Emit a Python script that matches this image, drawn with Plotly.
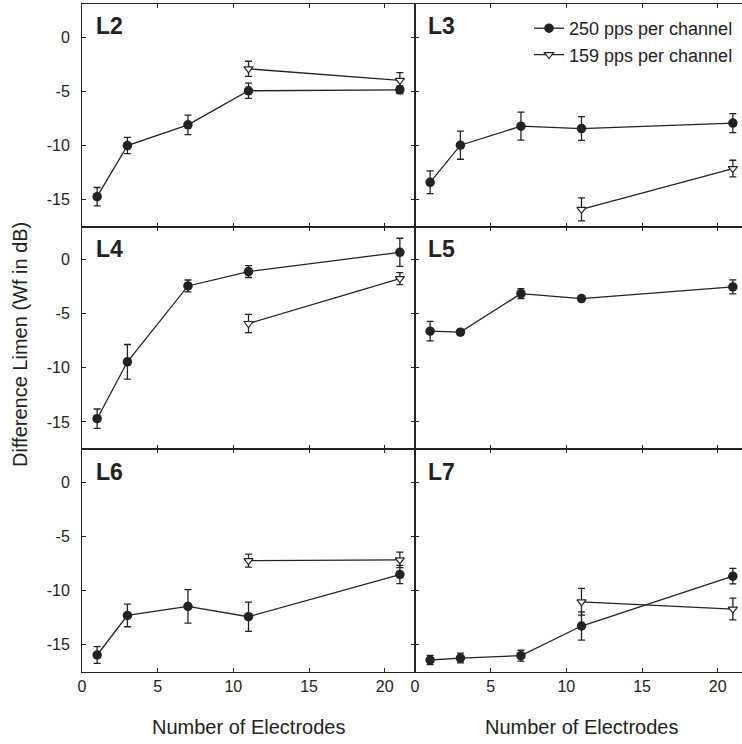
import plotly.graph_objects as go
from plotly.subplots import make_subplots

# ---- data ----
panel_names = ["L2", "L3", "L4", "L5", "L6", "L7"]
x_250 = [1, 3, 7, 11, 21]
x_159 = [11, 21]

L2_250 = [-14.76, -10.03, -8.12, -4.97, -4.88]
L2_250_err = [0.85, 0.75, 0.9, 0.7, 0.35]
L2_159 = [-2.94, -4.0]
L2_159_err = [0.7, 0.7]

L3_250 = [-13.43, -10.0, -8.24, -8.46, -7.96]
L3_250_err = [1.05, 1.3, 1.3, 1.1, 0.88]
L3_159 = [-15.93, -12.16]
L3_159_err = [1.07, 0.77]

L4_250 = [-14.7, -9.44, -2.43, -1.1, 0.68]
L4_250_err = [0.9, 1.6, 0.55, 0.55, 1.3]
L4_159 = [-5.9, -1.75]
L4_159_err = [0.85, 0.55]

L5_250 = [-6.61, -6.7, -3.14, -3.6, -2.52]
L5_250_err = [0.9, 0.25, 0.45, 0.1, 0.65]
L5_159 = []
L5_159_err = []

L6_250 = [-15.96, -12.3, -11.47, -12.42, -8.52]
L6_250_err = [0.77, 1.05, 1.55, 1.35, 0.85]
L6_159 = [-7.23, -7.17]
L6_159_err = [0.6, 0.72]

L7_250 = [-16.42, -16.24, -16.02, -13.28, -8.67]
L7_250_err = [0.43, 0.45, 0.5, 1.3, 0.72]
L7_159 = [-11.04, -11.71]
L7_159_err = [1.23, 1.0]

series_names = ["250 pps per channel", "159 pps per channel"]
y_tickvals = [0, -5, -10, -15]
y_ticktext = ["0", "-5", "-10", "-15"]
x_tickvals = [0, 5, 10, 15, 20]
x_ticktext = ["0", "5", "10", "15", "20"]
x_title = "Number of Electrodes"
y_title = "Difference Limen (Wf in dB)"

panels = [
    (L2_250, L2_250_err, L2_159, L2_159_err),
    (L3_250, L3_250_err, L3_159, L3_159_err),
    (L4_250, L4_250_err, L4_159, L4_159_err),
    (L5_250, L5_250_err, L5_159, L5_159_err),
    (L6_250, L6_250_err, L6_159, L6_159_err),
    (L7_250, L7_250_err, L7_159, L7_159_err),
]

# ---- figure ----
W, H = 742, 744
ML, MR, MT, MB = 82, 0, 4, 72
INK = "#222222"
FONT = "Liberation Sans, Arial, Helvetica, sans-serif"

fig = make_subplots(rows=3, cols=2, horizontal_spacing=0, vertical_spacing=0,
                    column_widths=[333, 327])

for i, (f, fe, o, oe) in enumerate(panels):
    r, c = i // 2 + 1, i % 2 + 1
    fig.add_trace(go.Scatter(
        x=x_250, y=f, mode="lines+markers", name=series_names[0],
        legendgroup="a", showlegend=(i == 0),
        line=dict(color=INK, width=1.3),
        marker=dict(symbol="circle", size=9.5, color=INK),
        error_y=dict(type="data", array=fe, visible=True, color=INK, thickness=1.3, width=3.5),
    ), row=r, col=c)
    fig.add_trace(go.Scatter(
        x=x_159[:len(o)], y=o, mode="lines+markers", name=series_names[1],
        legendgroup="b", showlegend=(i == 0),
        line=dict(color=INK, width=1.3),
        marker=dict(symbol="triangle-down", size=8, color="white",
                    line=dict(color=INK, width=1.2)),
        error_y=dict(type="data", array=oe, visible=True, color=INK, thickness=1.3, width=3.5),
    ), row=r, col=c)
    # panel label
    fig.add_annotation(text="<b>%s</b>" % panel_names[i], showarrow=False,
                       xref="x%s domain" % ("" if i == 0 else i + 1),
                       yref="y%s domain" % ("" if i == 0 else i + 1),
                       x=0.036 if c == 1 else 0.034, y=0.90, xanchor="left", yanchor="middle",
                       font=dict(size=23, color=INK, family=FONT))

px_per_x = 333 / 22.0
for i in range(6):
    r, c = i // 2 + 1, i % 2 + 1
    xr = [0, 22] if c == 1 else [0, 327 / px_per_x]
    fig.update_xaxes(row=r, col=c, range=xr, tickvals=x_tickvals, ticktext=x_ticktext,
                     showticklabels=(r == 3), ticks="inside", ticklen=4, tickwidth=1.2,
                     tickcolor=INK, showline=True, linecolor=INK, linewidth=1,
                     mirror="ticks", showgrid=False, zeroline=False,
                     tickfont=dict(size=16, color=INK, family=FONT))
    fig.update_yaxes(row=r, col=c, range=[-17.53, 3.05], tickvals=y_tickvals, ticktext=y_ticktext,
                     showticklabels=(c == 1), ticks="inside", ticklen=4, tickwidth=1.2,
                     tickcolor=INK, showline=True, linecolor=INK, linewidth=1,
                     mirror=("ticks" if c == 1 else False), showgrid=False, zeroline=False,
                     ticklabelstandoff=8,
                     tickfont=dict(size=16, color=INK, family=FONT))

# axis titles
fig.add_annotation(text=x_title, showarrow=False, xref="x5 domain", yref="paper",
                   x=0.5, y=-54.7 / 668, xanchor="center", yanchor="middle",
                   font=dict(size=20, color=INK, family=FONT))
fig.add_annotation(text=x_title, showarrow=False, xref="paper", yref="paper",
                   x=(581.7 - ML) / 660, y=-54.7 / 668, xanchor="center", yanchor="middle",
                   font=dict(size=20, color=INK, family=FONT))
fig.add_annotation(text=y_title, showarrow=False, xref="paper", yref="paper",
                   x=(20 - ML) / 660, y=1 - (345 - MT) / 668, textangle=-90,
                   xanchor="center", yanchor="middle",
                   font=dict(size=20, color=INK, family=FONT))

fig.update_layout(
    width=W, height=H,
    margin=dict(l=ML, r=MR, t=MT, b=MB),
    paper_bgcolor="white", plot_bgcolor="white",
    font=dict(family=FONT, color=INK),
    legend=dict(x=(529 - ML) / 660, y=1 - (10 - MT) / 668, xanchor="left", yanchor="top",
                bgcolor="rgba(0,0,0,0)", font=dict(size=18, color=INK, family=FONT),
                tracegroupgap=0, traceorder="normal"),
)

fig.write_html("out.html", config={"displayModeBar": False},
               post_script="document.body.style.margin='0px';document.body.style.overflow='hidden';")
